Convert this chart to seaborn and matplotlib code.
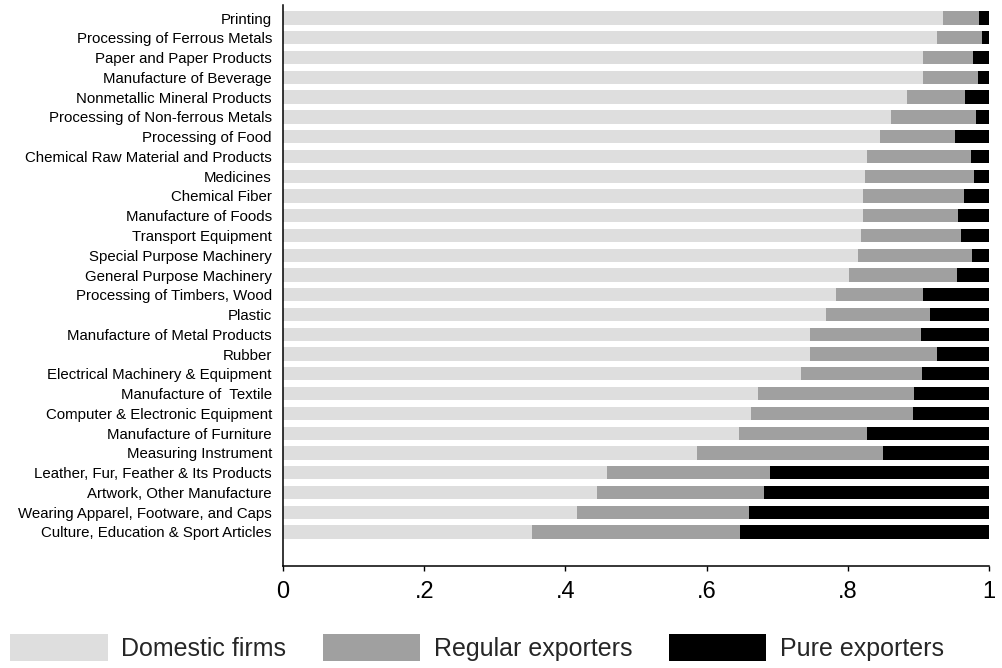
import numpy as np
import pandas as pd
import matplotlib
matplotlib.use("Agg")
import matplotlib.pyplot as plt
from matplotlib.patches import Patch
import seaborn as sns

sns.set_theme(style="white")
plt.rcParams['font.family'] = ['Liberation Sans', 'DejaVu Sans']

industries = [
    "Printing",
    "Processing of Ferrous Metals",
    "Paper and Paper Products",
    "Manufacture of Beverage",
    "Nonmetallic Mineral Products",
    "Processing of Non-ferrous Metals",
    "Processing of Food",
    "Chemical Raw Material and Products",
    "Medicines",
    "Chemical Fiber",
    "Manufacture of Foods",
    "Transport Equipment",
    "Special Purpose Machinery",
    "General Purpose Machinery",
    "Processing of Timbers, Wood",
    "Plastic",
    "Manufacture of Metal Products",
    "Rubber",
    "Electrical Machinery & Equipment",
    "Manufacture of  Textile",
    "Computer & Electronic Equipment",
    "Manufacture of Furniture",
    "Measuring Instrument",
    "Leather, Fur, Feather & Its Products",
    "Artwork, Other Manufacture",
    "Wearing Apparel, Footware, and Caps",
    "Culture, Education & Sport Articles",
]

# shares
domestic = [0.935, 0.927, 0.907, 0.906, 0.884, 0.861, 0.846, 0.827, 0.825,
            0.822, 0.821, 0.818, 0.814, 0.802, 0.783, 0.769, 0.746, 0.746,
            0.734, 0.673, 0.663, 0.646, 0.587, 0.459, 0.445, 0.416, 0.353]
regular = [0.051, 0.063, 0.071, 0.079, 0.082, 0.121, 0.106, 0.148, 0.154,
           0.143, 0.135, 0.142, 0.162, 0.153, 0.123, 0.147, 0.157, 0.181,
           0.171, 0.221, 0.229, 0.181, 0.263, 0.231, 0.236, 0.244, 0.294]
pure = [0.014, 0.010, 0.022, 0.015, 0.034, 0.018, 0.048, 0.025, 0.021,
        0.035, 0.044, 0.040, 0.024, 0.045, 0.094, 0.084, 0.097, 0.073,
        0.095, 0.106, 0.108, 0.173, 0.150, 0.310, 0.319, 0.340, 0.353]

series_names = ["Domestic firms", "Regular exporters", "Pure exporters"]
colors = ["#dedede", "#a0a0a0", "#000000"]

df = pd.DataFrame({"industry": industries, "domestic": domestic,
                   "regular": regular, "pure": pure})
df["c1"] = df["domestic"]
df["c2"] = df["domestic"] + df["regular"]
df["c3"] = df["c2"] + df["pure"]

fig = plt.figure(figsize=(10.02, 6.68), dpi=100)
ax = fig.add_axes([283 / 1002, 1 - 566 / 668, 706 / 1002, 561 / 668])

# stacked: draw cumulative totals back to front
for col, c in zip(["c3", "c2", "c1"], colors[::-1]):
    sns.barplot(data=df, x=col, y="industry", order=industries, color=c,
                orient="h", width=0.67, saturation=1, linewidth=0, ax=ax)

ax.set_xlim(0, 1)
ax.set_ylim(26 + 1.72, -0.66)
ax.set_xticks([0, 0.2, 0.4, 0.6, 0.8, 1.0])
ax.set_xticklabels(["0", ".2", ".4", ".6", ".8", "1"])
ax.set_xlabel("")
ax.set_ylabel("")
ax.tick_params(axis="x", which="both", bottom=True, length=3.5, width=1,
               color="black", labelsize=17, pad=7, labelcolor="black")
ax.tick_params(axis="y", left=False, length=0, labelsize=10.8, pad=8,
               labelcolor="black")
sns.despine(ax=ax, top=True, right=True)
for side in ["left", "bottom"]:
    ax.spines[side].set_color("black")
    ax.spines[side].set_linewidth(1.1)

handles = [Patch(facecolor=c, edgecolor="none", label=n)
           for n, c in zip(series_names, colors)]
fig.legend(handles=handles, loc="lower left", bbox_to_anchor=(10 / 1002, 7 / 668),
           ncol=3, frameon=False, fontsize=18, handlelength=3.9,
           handleheight=1.25, handletextpad=0.55, columnspacing=1.45,
           borderaxespad=0, borderpad=0)

fig.savefig("out.png", dpi=100)
